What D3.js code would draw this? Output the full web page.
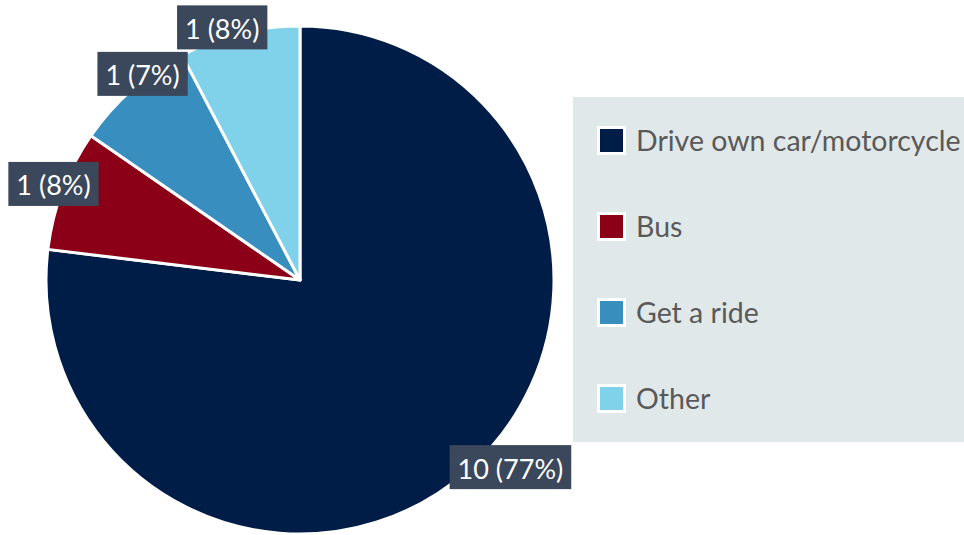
<!DOCTYPE html>
<html>
<head>
<meta charset="utf-8">
<script src="https://cdn.jsdelivr.net/npm/d3@7"></script>
<style>
  html, body { margin: 0; padding: 0; background: #ffffff; }
  svg { display: block; font-family: Lato, "Open Sans", sans-serif; }
</style>
</head>
<body>
<svg id="chart" width="964" height="535"></svg>
<script>
// Travel mode counts
const categories = ["Drive own car/motorcycle", "Bus", "Get a ride", "Other"];
const counts = [10, 1, 1, 1];
const percentLabels = ["77%", "8%", "7%", "8%"];
const colors = ["#001d48", "#8b0016", "#398ec0", "#80d1ea"];

const svg = d3.select("#chart");
const cx = 300, cy = 280, radius = 254;

const pie = d3.pie().sort(null).value(d => d.value);
const arcs = pie(categories.map((c, i) => ({ name: c, value: counts[i], pct: percentLabels[i], color: colors[i] })));
const arc = d3.arc().innerRadius(0).outerRadius(radius);
const edgeArc = d3.arc().innerRadius(radius).outerRadius(radius);

const g = svg.append("g").attr("transform", `translate(${cx},${cy})`);

g.selectAll("path.slice")
  .data(arcs)
  .join("path")
  .attr("class", "slice")
  .attr("d", arc)
  .attr("fill", d => d.data.color)
  .attr("stroke", "#ffffff")
  .attr("stroke-width", 3)
  .attr("stroke-linejoin", "round");

// Data labels: dark boxes straddling the rim, nudged like best-fit placement
const labelNudge = [[42, -3], [-9, -6], [11, -16], [-17, -6]];
const labels = g.selectAll("g.label")
  .data(arcs)
  .join("g")
  .attr("class", "label")
  .attr("transform", (d, i) => {
    const [x, y] = edgeArc.centroid(d);
    return `translate(${x + labelNudge[i][0]},${y + labelNudge[i][1]})`;
  });

labels.append("rect").attr("fill", "#3b475a");
labels.append("text")
  .attr("text-anchor", "middle")
  .attr("dominant-baseline", "central")
  .attr("fill", "#ffffff")
  .attr("font-size", 27)
  .attr("dy", 1)
  .text(d => `${d.data.value} (${d.data.pct})`);

labels.each(function() {
  const t = d3.select(this).select("text").node();
  const w = t.getComputedTextLength() + 16;
  const h = 44;
  d3.select(this).select("rect")
    .attr("x", -w / 2).attr("y", -h / 2)
    .attr("width", w).attr("height", h);
});

// Legend
const legend = svg.append("g").attr("transform", "translate(573,97)");
legend.append("rect")
  .attr("width", 391).attr("height", 345)
  .attr("fill", "#e1e8ea");

const legendY = d3.scalePoint().domain(categories).range([44, 302]);
const items = legend.selectAll("g.item")
  .data(arcs)
  .join("g")
  .attr("class", "item")
  .attr("transform", d => `translate(24,${legendY(d.data.name)})`);

items.append("rect")
  .attr("x", 1.5).attr("y", -13.5)
  .attr("width", 26).attr("height", 26)
  .attr("fill", d => d.data.color)
  .attr("stroke", "#ffffff")
  .attr("stroke-width", 3);

items.append("text")
  .attr("x", 39)
  .attr("dominant-baseline", "central")
  .attr("dy", -1)
  .attr("fill", "#595959")
  .attr("font-size", 28.5)
  .text(d => d.data.name);
</script>
</body>
</html>
